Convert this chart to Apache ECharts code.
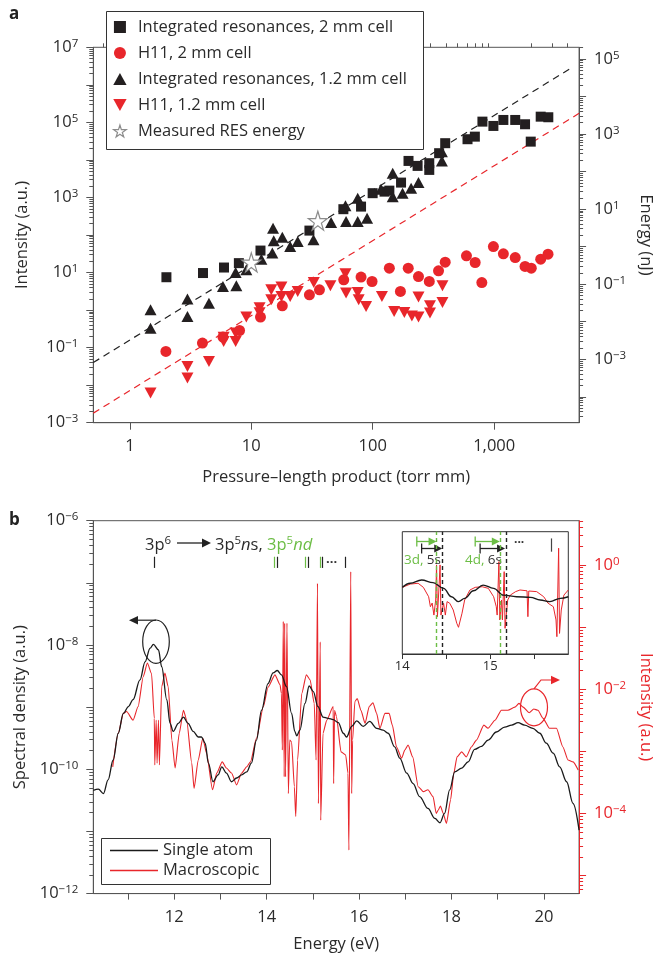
<!DOCTYPE html>
<html><head><meta charset="utf-8">
<script src="https://cdn.jsdelivr.net/npm/echarts@6/dist/echarts.min.js"></script>
<style>html,body{margin:0;padding:0;background:#fff}#c{width:662px;height:958px}</style>
</head><body><div id="c"></div>
<script>
// ---------------- Panel a data: [pressure-length (torr mm), intensity (a.u.)] ----------------
const integrated2mm = [[2.0,7.5],[4.0,9.7],[5.96,13.6],[7.9,17.8],[11.9,38.5],[30.1,131],[57.3,487],[80.1,571],[99.8,1300],[125,1430],[137,1520],[171,2490],[197,9400],[234,6930],[292,8170],[292,5420],[352,15100],[395,27900],[603,35600],[693,41700],[800,104700],[985,80400],[1190,116000],[1490,116000],[1795,89100],[2000,30700],[2415,142000],[2790,137000]];
const h11_2mm = [[1.98,0.079],[3.96,0.132],[5.84,0.191],[8.0,0.286],[11.9,0.65],[18.0,1.30],[30.1,2.55],[36.4,3.47],[57.7,6.4],[80.1,7.55],[98.7,5.77],[137,13.1],[169,3.13],[196,13.1],[238,7.8],[292,5.8],[348,11.1],[395,18.9],[591,27.9],[697,18.5],[791,5.4],[985,49.3],[1190,31.5],[1490,25.1],[1795,14.5],[2020,13.1],[2415,22.7],[2775,30.9]];
const integrated12mm = [[1.48,1.02],[1.48,0.33],[2.98,1.96],[2.98,0.67],[4.48,1.53],[5.84,4.25],[7.53,4.43],[7.43,10],[9.1,11.8],[12.1,22.7],[15.1,152],[15.3,69.8],[14.9,32.9],[18.0,87.7],[20.9,49.3],[24.1,67],[32.5,74.3],[45.4,214],[59.6,597],[60.3,228],[75.2,957],[75.2,228],[89.8,281],[117,1660],[146,1050],[146,4430],[176,1300],[207,1770],[238,2490],[371,16600],[371,9420]];
const h11_12mm = [[1.48,0.0062],[2.98,0.0315],[2.98,0.0155],[4.48,0.043],[5.92,0.19],[5.92,0.146],[7.43,0.244],[7.43,0.146],[9.1,0.65],[11.7,1.15],[11.7,0.85],[14.6,3.47],[14.6,1.88],[17.7,4.1],[17.7,2.3],[20.9,2.3],[24.1,3.13],[32.7,5.42],[44.8,4.43],[59.6,9.25],[60.3,2.83],[75.2,2.94],[76.6,1.88],[88.1,1.24],[119,2.3],[150,0.92],[182,0.86],[210,0.70],[238,0.65],[238,2.22],[296,0.83],[296,1.3],[375,4.43],[375,1.59]];
// measured RES energy: [pressure-length, energy (nJ)]
const resEnergy = [[10.0,0.38],[35.3,4.9]];
// dashed guide lines (end points)
const guideIntegrated = [[0.5,0.04],[4260,2.75e6]];
const guideH11 = [[0.5,0.0018],[5000,1.74e5]];
// tick values panel a
const aXLabels = [1,10,100,1000];
const aYLeftLabels = [1e-3,1e-1,1e1,1e3,1e5,1e7];
const aYRightLabels = [1e-3,1e-1,1e1,1e3,1e5];

// ---------------- Panel b data: [energy (eV), log10 value] ----------------
const singleAtom = [[10.25,-10.34],[10.36,-10.32],[10.47,-10.39],[10.57,-10.17],[10.68,-9.85],[10.79,-9.42],[10.90,-9.10],[11.01,-8.99],[11.11,-8.88],[11.26,-8.56],[11.37,-8.27],[11.48,-8.05],[11.55,-7.99],[11.66,-8.08],[11.73,-8.35],[11.84,-8.88],[11.91,-9.26],[11.98,-9.39],[12.09,-9.26],[12.20,-9.16],[12.30,-9.26],[12.41,-9.39],[12.52,-9.48],[12.59,-9.48],[12.67,-9.58],[12.74,-9.90],[12.84,-10.20],[12.95,-10.09],[13.03,-9.96],[13.13,-10.06],[13.24,-10.20],[13.35,-10.14],[13.46,-10.09],[13.57,-10.04],[13.67,-9.90],[13.78,-9.53],[13.89,-9.05],[14.03,-8.62],[14.14,-8.45],[14.23,-8.41],[14.32,-8.48],[14.43,-8.67],[14.54,-9.10],[14.61,-9.39],[14.65,-9.46],[14.72,-9.37],[14.83,-8.94],[14.92,-8.66],[15.01,-8.75],[15.11,-8.99],[15.22,-9.16],[15.33,-9.18],[15.44,-9.20],[15.55,-9.25],[15.66,-9.42],[15.73,-9.48],[15.84,-9.31],[15.95,-9.22],[16.09,-9.31],[16.23,-9.23],[16.38,-9.34],[16.52,-9.37],[16.63,-9.42],[16.77,-9.64],[16.88,-9.82],[17.03,-10.06],[17.17,-10.23],[17.31,-10.44],[17.49,-10.63],[17.64,-10.79],[17.75,-10.86],[17.85,-10.71],[17.96,-10.33],[18.07,-10.04],[18.22,-9.98],[18.36,-9.88],[18.50,-9.68],[18.65,-9.63],[18.79,-9.53],[18.97,-9.40],[19.15,-9.32],[19.30,-9.29],[19.44,-9.25],[19.58,-9.29],[19.76,-9.34],[19.91,-9.42],[20.05,-9.58],[20.20,-9.74],[20.34,-9.96],[20.49,-10.20],[20.63,-10.55],[20.76,-10.98]];
const macroscopic = [[10.67,-3.25],[10.79,-2.71],[10.90,-2.39],[10.97,-2.36],[11.11,-2.50],[11.22,-2.28],[11.33,-1.80],[11.42,-1.58],[11.51,-1.75],[11.57,-2.47],[11.58,-3.22],[11.61,-2.50],[11.63,-3.19],[11.66,-2.50],[11.68,-3.22],[11.73,-1.96],[11.80,-1.74],[11.87,-1.96],[11.95,-2.82],[12.02,-3.27],[12.11,-2.71],[12.20,-2.34],[12.27,-2.50],[12.38,-3.19],[12.43,-3.60],[12.52,-3.14],[12.62,-2.79],[12.70,-3.03],[12.83,-3.62],[12.92,-3.35],[13.04,-3.17],[13.13,-3.27],[13.24,-3.35],[13.35,-3.54],[13.46,-3.35],[13.57,-3.25],[13.65,-3.17],[13.78,-2.79],[13.93,-2.28],[14.03,-1.97],[14.18,-1.77],[14.29,-1.93],[14.32,-2.07],[14.34,-2.98],[14.36,-0.91],[14.38,-3.41],[14.39,-0.94],[14.41,-3.41],[14.44,-0.94],[14.47,-3.68],[14.50,-2.82],[14.54,-2.85],[14.60,-3.57],[14.63,-4.05],[14.67,-3.14],[14.76,-2.07],[14.86,-1.77],[14.94,-1.85],[15.03,-2.23],[15.07,-3.14],[15.10,-0.30],[15.12,-3.84],[15.16,-1.24],[15.17,-4.11],[15.22,-2.71],[15.30,-2.50],[15.44,-2.28],[15.45,-3.52],[15.47,-2.34],[15.51,-2.44],[15.61,-3.01],[15.71,-3.06],[15.76,-3.35],[15.78,-4.59],[15.82,-0.11],[15.84,-3.68],[15.86,-2.82],[15.91,-2.20],[15.96,-2.15],[16.04,-2.34],[16.13,-2.55],[16.22,-2.28],[16.30,-2.22],[16.38,-2.39],[16.45,-2.63],[16.56,-2.39],[16.65,-2.39],[16.72,-2.58],[16.81,-2.93],[16.92,-3.11],[16.99,-2.98],[17.06,-2.90],[17.16,-3.09],[17.28,-3.57],[17.39,-3.65],[17.49,-3.62],[17.60,-3.73],[17.67,-4.00],[17.71,-3.95],[17.76,-3.88],[17.82,-4.00],[17.89,-4.16],[17.98,-3.78],[18.05,-3.35],[18.12,-3.09],[18.22,-3.01],[18.32,-3.09],[18.43,-2.93],[18.54,-2.82],[18.70,-2.58],[18.79,-2.63],[18.94,-2.50],[19.08,-2.34],[19.22,-2.34],[19.37,-2.29],[19.46,-2.23],[19.55,-2.29],[19.68,-2.38],[19.78,-2.32],[19.87,-2.34],[19.98,-2.47],[20.12,-2.63],[20.27,-2.63],[20.41,-2.93],[20.52,-3.14],[20.63,-3.17],[20.74,-3.30]];
const insetSingleAtom = [[14.00,-8.73],[14.09,-8.53],[14.22,-8.37],[14.35,-8.50],[14.47,-8.78],[14.56,-9.19],[14.64,-9.43],[14.71,-9.27],[14.81,-8.90],[14.92,-8.62],[15.04,-8.78],[15.15,-9.11],[15.30,-9.19],[15.46,-9.22],[15.57,-9.35],[15.68,-9.43],[15.80,-9.27],[15.89,-9.19]];
const insetMacroscopic = [[14.00,-2.02],[14.09,-1.86],[14.18,-1.82],[14.24,-2.02],[14.30,-2.48],[14.32,-2.97],[14.34,-2.79],[14.36,-3.38],[14.38,-2.64],[14.39,-0.92],[14.40,-3.46],[14.42,-1.82],[14.43,-0.92],[14.44,-3.38],[14.46,-3.46],[14.47,-2.80],[14.49,-3.38],[14.51,-2.72],[14.54,-2.80],[14.58,-3.13],[14.62,-3.78],[14.64,-3.98],[14.68,-3.29],[14.71,-2.64],[14.77,-2.15],[14.83,-2.02],[14.91,-1.99],[14.98,-2.07],[15.04,-2.48],[15.07,-2.97],[15.08,-3.38],[15.10,-0.76],[15.11,-3.62],[15.13,-2.64],[15.14,-3.62],[15.16,-1.25],[15.17,-4.03],[15.20,-2.64],[15.23,-2.40],[15.29,-2.23],[15.34,-2.15],[15.42,-2.19],[15.43,-3.46],[15.44,-2.20],[15.53,-2.23],[15.61,-2.48],[15.66,-2.80],[15.72,-2.97],[15.75,-3.62],[15.76,-4.44],[15.78,-0.10],[15.79,-4.28],[15.81,-3.13],[15.84,-2.40],[15.89,-2.15]];
// resonance markers (eV)
const nsLines = [11.56,14.22,14.90,15.21,15.70];
const ndLines = [14.16,14.84,15.15];
const insetNsLimits = [14.455,15.18];
const insetNdLimits = [14.39,15.11];
const insetNsArrows = [[14.22,14.455],[14.886,15.17]];
const insetNdArrows = [[14.165,14.39],[14.83,15.11]];
// tick values panel b
const bXLabels = [12,14,16,18,20];
const bXTicks = [11,12,13,14,15,16,17,18,19,20];
const bYLeftLabels = [1e-12,1e-10,1e-8,1e-6];
const bYRightLabels = [1e-4,1e-2,1e0];
const insetXLabels = [14,15];
const insetXTicks = [14,14.5,15,15.5];

// ---------------- styling ----------------
const FONT = '"Open Sans", "Noto Sans", sans-serif';
const FS = 16.5;
const TXT = '#2b2b2b';
const AX = '#555';
const RED = '#e8262b';
const GREEN = '#6cbd45';
const BLACK = '#231f20';
const STAR = 'path://M50,0 L61,35 L98,35 L68,57 L79,91 L50,70 L21,91 L32,57 L2,35 L39,35 Z';
const DOWN = 'path://M0,0 L10,0 L5,9 Z';
const UP = 'path://M5,0 L10,9 L0,9 Z';
const SQUARE = 'path://M0,0 L10,0 L10,10 L0,10 Z';
const CIRCLE = 'path://M5,0 A5,5 0 1,1 4.99,0 Z';

const pow10 = v => Math.pow(10, v);
const asLin = arr => arr.map(p => [p[0], pow10(p[1])]);

function decades(lo, hi){ const o=[]; for(let e=Math.ceil(Math.log10(lo)-1e-9); e<=Math.floor(Math.log10(hi)+1e-9); e++) o.push(Math.pow(10,e)); return o; }
function minors(lo, hi){ const o=[]; for(let e=Math.floor(Math.log10(lo))-1; e<=Math.ceil(Math.log10(hi)); e++){ for(let k=2;k<=9;k++){ const v=k*Math.pow(10,e); if(v>=lo*1.0001 && v<=hi*0.9999) o.push(v);} } return o; }
function supFmt(v){ const e=Math.round(Math.log10(v)); return '{b|10}{s|' + (e<0 ? '\u2212'+(-e) : String(e)) + '}'; }
function supRich(color){ return { b:{fontSize:FS, fontFamily:FONT, color, lineHeight:19}, s:{fontSize:11.5, fontFamily:FONT, color, verticalAlign:'top', lineHeight:7} }; }

const aYRmin = pow10(-4.69), aYRmax = pow10(5.31);
const bYRmin = pow10(-5.29), bYRmax = pow10(0.71);

function logAxis(o){
  const color = o.color || AX;
  return {
    type:'log', logBase:10, gridIndex:o.grid, position:o.pos, min:o.min, max:o.max,
    splitLine:{show:false}, silent:true,
    axisLine:{show:!o.minor, lineStyle:{color, width:1}},
    axisTick:{show:true, length:o.minor?4:7, customValues:o.minor?minors(o.min,o.max):decades(o.min,o.max), lineStyle:{color, width:1}},
    axisLabel:o.minor?{show:false}:{show:true, customValues:o.labels, formatter:supFmt, rich:supRich(o.labelColor||TXT), margin:15},
    name:o.name||'', nameLocation:'middle', nameGap:o.nameGap||0, nameRotate:o.nameRotate,
    nameTextStyle:{fontSize:FS, fontFamily:FONT, color:o.labelColor||TXT}
  };
}

const chart = echarts.init(document.getElementById('c'), null, {renderer:'canvas', width:662, height:958});

const option = {
  animation:false,
  textStyle:{fontFamily:FONT},
  grid:[
    {left:93.3, top:47.3, width:486.7, height:375.4, show:true, borderColor:AX, borderWidth:1},
    {left:93.3, top:520.7, width:486, height:372.9, show:true, borderColor:AX, borderWidth:1},
    {left:402.3, top:531.7, width:166, height:122.3, show:true, borderColor:'#333', borderWidth:1}
  ],
  xAxis:[
    {type:'log', logBase:10, gridIndex:0, min:0.5, max:5000, splitLine:{show:false}, silent:true,
     axisLine:{lineStyle:{color:AX}},
     axisTick:{customValues:decades(0.5,5000), length:7, lineStyle:{color:AX}},
     axisLabel:{customValues:aXLabels, formatter:v=>Number(v).toLocaleString('en-US'), fontSize:FS, color:TXT, margin:15, fontFamily:FONT},
     name:'Pressure\u2013length product (torr mm)', nameLocation:'middle', nameGap:46, nameTextStyle:{fontSize:FS, color:TXT, fontFamily:FONT}},
    {type:'log', logBase:10, gridIndex:0, min:0.5, max:5000, splitLine:{show:false}, silent:true,
     axisLine:{show:false}, axisTick:{customValues:minors(0.5,5000), length:4, lineStyle:{color:AX}}, axisLabel:{show:false}},
    {type:'value', gridIndex:1, min:10.25, max:20.76, splitLine:{show:false}, silent:true,
     axisLine:{lineStyle:{color:AX}},
     axisTick:{customValues:bXTicks, length:6, lineStyle:{color:AX}},
     axisLabel:{customValues:bXLabels, fontSize:FS, color:TXT, margin:15, fontFamily:FONT},
     name:'Energy (eV)', nameLocation:'middle', nameGap:42, nameTextStyle:{fontSize:FS, color:TXT, fontFamily:FONT}},
    {type:'value', gridIndex:2, min:14, max:15.89, splitLine:{show:false}, silent:true,
     axisLine:{lineStyle:{color:'#333'}},
     axisTick:{customValues:insetXTicks, length:5, lineStyle:{color:'#333'}},
     axisLabel:{customValues:insetXLabels, fontSize:13, color:TXT, margin:6, fontFamily:FONT}}
  ],
  yAxis:[
    logAxis({grid:0,pos:'left',min:1e-3,max:1e7,labels:aYLeftLabels,name:'Intensity (a.u.)',nameGap:63}),
    logAxis({grid:0,pos:'left',min:1e-3,max:1e7,minor:true}),
    logAxis({grid:0,pos:'right',min:aYRmin,max:aYRmax,labels:aYRightLabels,name:'Energy (nJ)',nameGap:57,nameRotate:-90}),
    logAxis({grid:0,pos:'right',min:aYRmin,max:aYRmax,minor:true}),
    logAxis({grid:1,pos:'left',min:1e-12,max:1e-6,labels:bYLeftLabels,name:'Spectral density (a.u.)',nameGap:63}),
    logAxis({grid:1,pos:'left',min:1e-12,max:1e-6,minor:true}),
    logAxis({grid:1,pos:'right',min:bYRmin,max:bYRmax,labels:bYRightLabels,name:'Intensity (a.u.)',nameGap:57,nameRotate:-90,color:RED,labelColor:RED}),
    logAxis({grid:1,pos:'right',min:bYRmin,max:bYRmax,minor:true,color:RED}),
    {type:'log', gridIndex:2, min:1e-12, max:1e-6, show:false},
    {type:'log', gridIndex:2, min:bYRmin, max:bYRmax, show:false}
  ],
  legend:[
    {orient:'vertical', left:113, top:17.5, itemWidth:26, itemHeight:12, itemGap:7, padding:0, z:5, symbolKeepAspect:true,
     textStyle:{fontSize:FS, lineHeight:19, color:TXT, fontFamily:FONT},
     data:[
       {name:'Integrated resonances, 2 mm cell', icon:SQUARE, itemStyle:{color:BLACK}},
       {name:'H11, 2 mm cell', icon:'circle', itemStyle:{color:RED}},
       {name:'Integrated resonances, 1.2 mm cell', icon:UP, itemStyle:{color:BLACK}},
       {name:'H11, 1.2 mm cell', icon:DOWN, itemStyle:{color:RED}},
       {name:'Measured RES energy', icon:STAR, itemStyle:{color:'#fff', borderColor:'#8c8c8c', borderWidth:1.2}}
     ]},
    {orient:'vertical', left:110, top:842, itemWidth:48, itemHeight:1.4, itemGap:3, padding:0, z:5,
     textStyle:{fontSize:FS, lineHeight:17, color:TXT, fontFamily:FONT},
     data:[{name:'Single atom', icon:'rect', itemStyle:{color:'#1a1a1a'}},{name:'Macroscopic', icon:'rect', itemStyle:{color:RED}}]}
  ],
  series:[
    {type:'line', xAxisIndex:0, yAxisIndex:0, data:guideIntegrated, symbol:'none', silent:true, z:1,
     lineStyle:{color:'#222', width:1.2, type:[7,5]}},
    {type:'line', xAxisIndex:0, yAxisIndex:0, data:guideH11, symbol:'none', silent:true, z:1,
     lineStyle:{color:RED, width:1.2, type:[7,5]}},
    {name:'H11, 2 mm cell', type:'scatter', xAxisIndex:0, yAxisIndex:0, data:h11_2mm, symbol:'circle', symbolSize:11, itemStyle:{color:RED, opacity:1}},
    {name:'H11, 1.2 mm cell', type:'scatter', xAxisIndex:0, yAxisIndex:0, data:h11_12mm, symbol:DOWN, symbolSize:[12,11], itemStyle:{color:RED, opacity:1}},
    {name:'Integrated resonances, 2 mm cell', type:'scatter', xAxisIndex:0, yAxisIndex:0, data:integrated2mm, symbol:'rect', symbolSize:10, itemStyle:{color:BLACK, opacity:1}},
    {name:'Integrated resonances, 1.2 mm cell', type:'scatter', xAxisIndex:0, yAxisIndex:0, data:integrated12mm, symbol:'triangle', symbolSize:[12,11], itemStyle:{color:BLACK, opacity:1}},
    {name:'Measured RES energy', type:'scatter', xAxisIndex:0, yAxisIndex:2, data:resEnergy, symbol:STAR, symbolSize:19, z:4,
     itemStyle:{color:'#fff', borderColor:'#8c8c8c', borderWidth:1.2, opacity:1}},
    // panel b
    {name:'Macroscopic', type:'line', xAxisIndex:2, yAxisIndex:6, data:asLin(macroscopic), symbol:'none', smooth:0.2, smoothMonotone:'x',
     lineStyle:{color:RED, width:1.1}, itemStyle:{color:RED}, z:2},
    {name:'Single atom', type:'line', xAxisIndex:2, yAxisIndex:4, data:asLin(singleAtom), symbol:'none', smooth:0.35, smoothMonotone:'x',
     lineStyle:{color:'#1a1a1a', width:1.3}, itemStyle:{color:'#1a1a1a'}, z:3,
     markLine:{silent:true, symbol:['none','none'], label:{show:false}, animation:false,
       data:[].concat(
         nsLines.map(e=>[{coord:[e,pow10(-6.58)], lineStyle:{color:'#222',width:1.2,type:'solid'}},{coord:[e,pow10(-6.76)]}]),
         ndLines.map(e=>[{coord:[e,pow10(-6.58)], lineStyle:{color:GREEN,width:1.2,type:'solid'}},{coord:[e,pow10(-6.76)]}])
       )}},
    // inset
    {type:'line', xAxisIndex:3, yAxisIndex:9, data:asLin(insetMacroscopic), symbol:'none', silent:true,
     lineStyle:{color:RED, width:1}, z:2},
    {type:'line', xAxisIndex:3, yAxisIndex:8, data:asLin(insetSingleAtom), symbol:'none', smooth:0.4, smoothMonotone:'x', silent:true,
     lineStyle:{color:'#1a1a1a', width:1.4}, z:3,
     markLine:{silent:true, symbol:['none','none'], label:{show:false}, animation:false,
       data:[].concat(
         insetNdLimits.map(e=>({xAxis:e, lineStyle:{color:GREEN,width:1.4,type:[4,3]}})),
         insetNsLimits.map(e=>({xAxis:e, lineStyle:{color:'#222',width:1.4,type:[4,3]}})),
         [[{coord:[15.70,pow10(-6.33)], lineStyle:{color:'#444',width:1.2,type:'solid'}},{coord:[15.70,pow10(-6.98)]}]]
       )}}
  ],
  graphic:[]
};
chart.setOption(option);

// ---- annotation graphics ----
const G = [];
const ix = e => chart.convertToPixel({xAxisIndex:3}, e);
G.push({type:'rect', shape:{x:106.5,y:11.5,width:317,height:138}, style:{fill:'#fff', stroke:'#333', lineWidth:1}, z:3});
G.push({type:'rect', shape:{x:101.5,y:838.5,width:169,height:46}, style:{fill:'#fff', stroke:'#333', lineWidth:1}, z:3});
G.push({type:'text', x:9, y:14, style:{text:'a', font:'bold 17px '+FONT, fill:'#222', verticalAlign:'middle'}});
G.push({type:'text', x:9, y:520, style:{text:'b', font:'bold 17px '+FONT, fill:'#222', verticalAlign:'middle'}});
const rT = {
  n:{fontSize:16.5, fontFamily:FONT, fill:TXT, lineHeight:20},
  i:{fontSize:16.5, fontFamily:FONT, fill:TXT, fontStyle:'italic', lineHeight:20},
  s:{fontSize:11.5, fontFamily:FONT, fill:TXT, verticalAlign:'top', lineHeight:8},
  g:{fontSize:16.5, fontFamily:FONT, fill:GREEN, lineHeight:20},
  gi:{fontSize:16.5, fontFamily:FONT, fill:GREEN, fontStyle:'italic', lineHeight:20},
  gs:{fontSize:11.5, fontFamily:FONT, fill:GREEN, verticalAlign:'top', lineHeight:8}
};
G.push({type:'text', x:145, y:545, style:{text:'{n|3p}{s|6}', rich:rT, verticalAlign:'middle'}});
G.push({type:'polyline', shape:{points:[[177,543],[204,543]]}, style:{stroke:'#222', lineWidth:1.3, fill:null}});
G.push({type:'polygon', shape:{points:[[202,538.5],[211,543],[202,547.5]]}, style:{fill:'#222'}});
G.push({type:'text', x:215, y:545, style:{text:'{n|3p}{s|5}{i|n}{n|s, }{g|3p}{gs|5}{gi|nd}', rich:rT, verticalAlign:'middle'}});
G.push({type:'text', x:326, y:562, style:{text:'\u00b7\u00b7\u00b7', font:'bold 13px '+FONT, fill:'#333', verticalAlign:'middle'}});
G.push({type:'ellipse', shape:{cx:156, cy:641.7, rx:13.3, ry:21.7}, style:{fill:null, stroke:'#222', lineWidth:1.2}});
G.push({type:'polyline', shape:{points:[[156,620.2],[137,620.2]]}, style:{stroke:'#222', lineWidth:1.2, fill:null}});
G.push({type:'polygon', shape:{points:[[138,616],[129,620.2],[138,624.4]]}, style:{fill:'#222'}});
G.push({type:'ellipse', shape:{cx:534, cy:707.3, rx:13.5, ry:18.5}, style:{fill:null, stroke:RED, lineWidth:1.2}});
G.push({type:'polyline', shape:{points:[[534,688.8],[541,680],[552,680]]}, style:{stroke:RED, lineWidth:1.2, fill:null}});
G.push({type:'polygon', shape:{points:[[551,675.8],[560,680],[551,684.2]]}, style:{fill:RED}});
function bracket(e0, e1, y, color){
  const x0 = ix(e0), x1 = ix(e1);
  G.push({type:'polyline', shape:{points:[[x0,y-5],[x0,y+5]]}, style:{stroke:color, lineWidth:1.3, fill:null}, z:5});
  G.push({type:'polyline', shape:{points:[[x0,y],[x1-6,y]]}, style:{stroke:color, lineWidth:1.3, fill:null}, z:5});
  G.push({type:'polygon', shape:{points:[[x1-8,y-4],[x1,y],[x1-8,y+4]]}, style:{fill:color}, z:5});
}
insetNdArrows.forEach(a=>bracket(a[0],a[1],541.5,GREEN));
insetNsArrows.forEach(a=>bracket(a[0],a[1],548.5,'#222'));
const rI = { g:{fontSize:13.5, fontFamily:FONT, fill:GREEN}, k:{fontSize:13.5, fontFamily:FONT, fill:'#333'} };
G.push({type:'text', x:404, y:560, style:{text:'{g|3d,} {k|5s}', rich:rI, verticalAlign:'middle'}, z:5});
G.push({type:'text', x:465, y:560, style:{text:'{g|4d,} {k|6s}', rich:rI, verticalAlign:'middle'}, z:5});
G.push({type:'text', x:514, y:543, style:{text:'\u00b7\u00b7\u00b7', font:'bold 12px '+FONT, fill:'#333', verticalAlign:'middle'}, z:5});
chart.setOption({graphic:G});
</script>
</body></html>
